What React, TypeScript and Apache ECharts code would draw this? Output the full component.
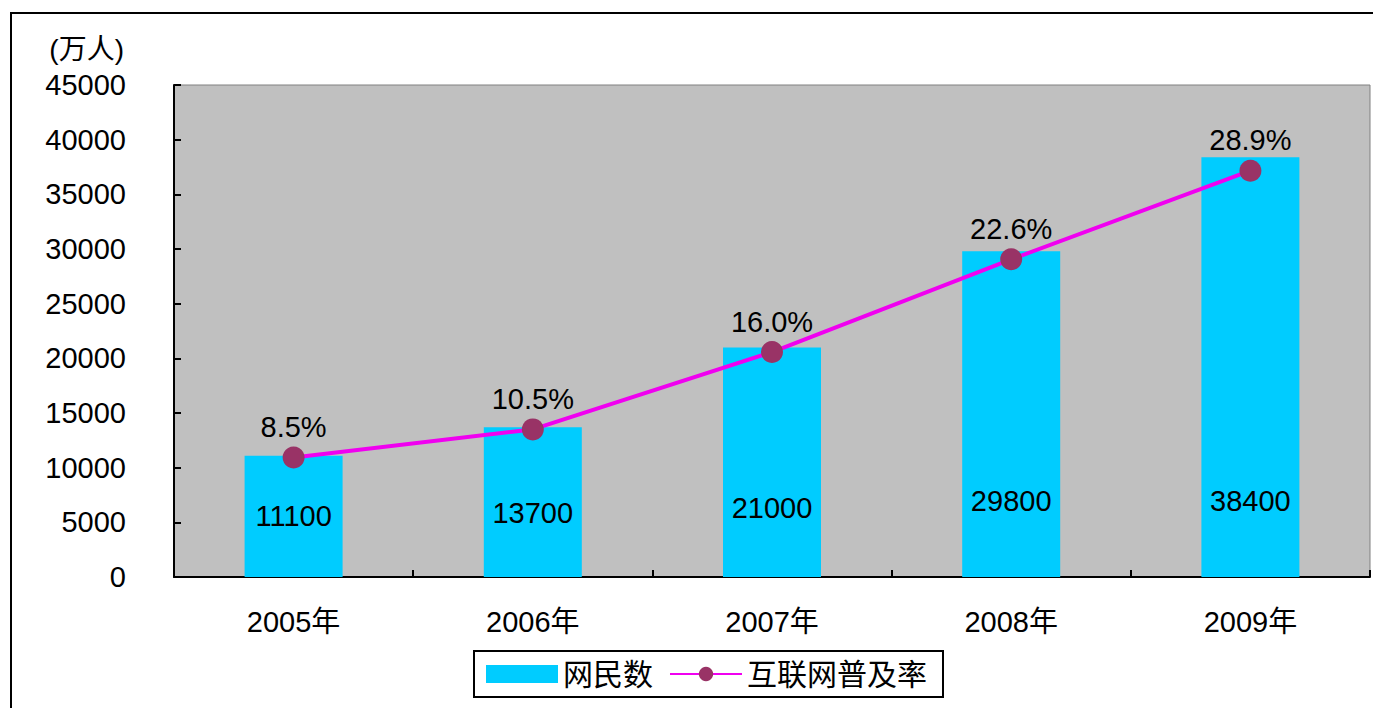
import React, { useEffect, useRef } from "react";
import * as echarts from "echarts";

const categories = ["2005年", "2006年", "2007年", "2008年", "2009年"];
const netizens = [11100, 13700, 21000, 29800, 38400];
const penetration = [8.5, 10.5, 16.0, 22.6, 28.9];
const seriesNames = ["网民数", "互联网普及率"];
const yUnit = "(万人)";
// per-bar label distance from bar bottom (style only)
const barLabelDistance = [47, 50, 55, 62, 62];

const FONT = "'Liberation Sans', 'Noto Sans CJK SC', sans-serif";

export default function App() {
  const ref = useRef<HTMLDivElement>(null);
  useEffect(() => {
    if (!ref.current) return;
    const chart = echarts.init(ref.current, undefined, { renderer: "svg" });
    chart.setOption({
      animation: false,
      backgroundColor: "#ffffff",
      textStyle: { fontFamily: FONT },
      graphic: [
        {
          type: "rect",
          shape: { x: 11, y: 13, width: 1400, height: 800 },
          style: { fill: "none", stroke: "#000", lineWidth: 2 },
          silent: true,
        },
      ],
      grid: {
        left: 174,
        top: 85,
        right: 3,
        bottom: 131,
        show: true,
        backgroundColor: "#C0C0C0",
        borderColor: "#808080",
        borderWidth: 1,
      },
      legend: {
        left: 474,
        top: 651,
        orient: "horizontal",
        borderColor: "#000",
        borderWidth: 2,
        padding: [8, 16, 8, 12],
        itemGap: 16,
        itemWidth: 72,
        itemHeight: 18,
        textStyle: { fontSize: 30, color: "#000", fontFamily: FONT },
        data: [
          { name: seriesNames[0], icon: "rect" },
          { name: seriesNames[1] },
        ],
      },
      xAxis: {
        type: "category",
        data: categories,
        boundaryGap: true,
        axisLine: { show: true, lineStyle: { color: "#000", width: 2 } },
        axisTick: { show: true, inside: true, length: 7, lineStyle: { color: "#000", width: 2 } },
        axisLabel: { color: "#000", fontSize: 29, margin: 30, fontFamily: FONT },
        splitLine: { show: false },
      },
      yAxis: [
        {
          type: "value",
          min: 0,
          max: 45000,
          interval: 5000,
          name: yUnit,
          nameLocation: "end",
          nameGap: 22,
          nameTextStyle: { color: "#000", fontSize: 28, align: "right", padding: [0, 50, 0, 0], fontFamily: FONT },
          axisLine: { show: true, lineStyle: { color: "#000", width: 2 } },
          axisTick: { show: true, inside: true, length: 7, lineStyle: { color: "#000", width: 2 } },
          axisLabel: {
            color: "#000",
            fontSize: 29,
            margin: 48,
            fontFamily: FONT,
            formatter: (v: number) => String(v),
          },
          splitLine: { show: false },
        },
        {
          type: "value",
          min: 0,
          max: 35,
          show: false,
          splitLine: { show: false },
        },
      ],
      series: [
        {
          name: seriesNames[0],
          type: "bar",
          data: netizens.map((v, i) => ({
            value: v,
            label: { distance: barLabelDistance[i] },
          })),
          yAxisIndex: 0,
          barWidth: 98,
          itemStyle: { color: "#00CCFF" },
          label: {
            show: true,
            position: "insideBottom",
            distance: 47,
            color: "#000",
            fontSize: 29,
            fontFamily: FONT,
          },
        },
        {
          name: seriesNames[1],
          type: "line",
          data: penetration,
          yAxisIndex: 1,
          symbol: "circle",
          symbolSize: 22,
          lineStyle: { color: "#F000F0", width: 4 },
          itemStyle: { color: "#993366" },
          label: {
            show: true,
            position: "top",
            distance: 5,
            color: "#000",
            fontSize: 29,
            fontFamily: FONT,
            formatter: (p: any) => Number(p.value).toFixed(1) + "%",
          },
        },
      ],
    });
    return () => chart.dispose();
  }, []);
  return (
    <div
      ref={ref}
      style={{ position: "fixed", left: 0, top: 0, width: 1373, height: 708 }}
    />
  );
}
